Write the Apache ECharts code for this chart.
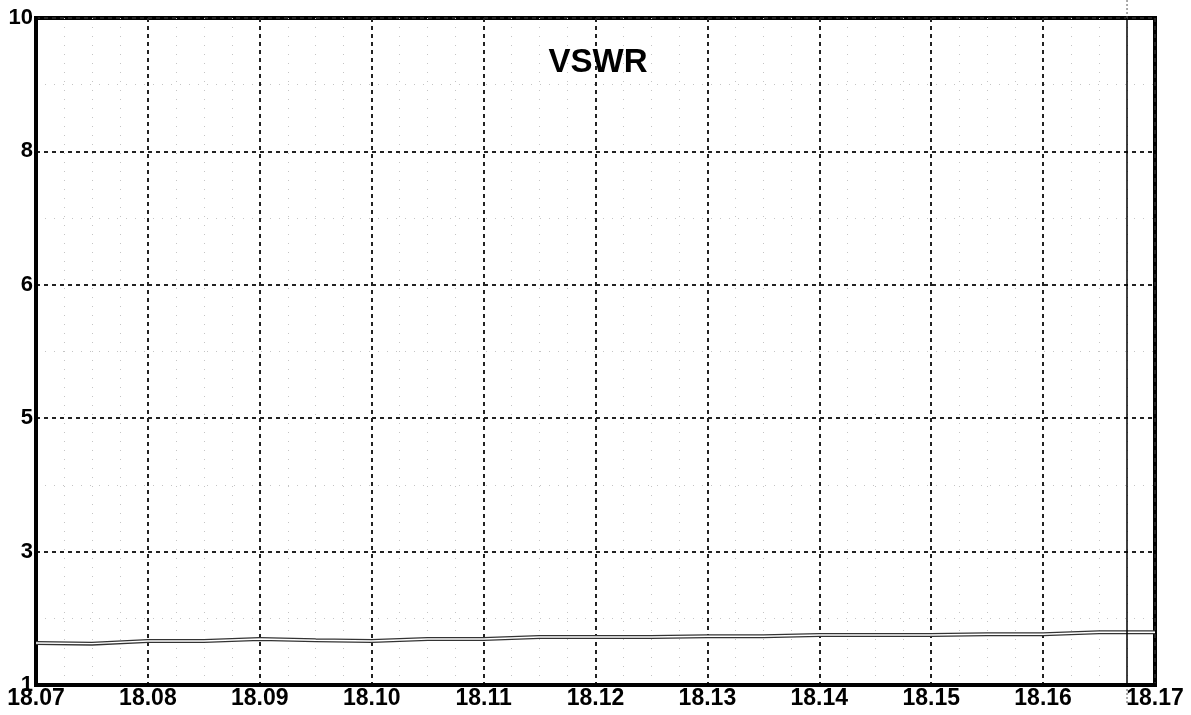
<!DOCTYPE html>
<html>
<head>
<meta charset="utf-8">
<script src="https://cdn.jsdelivr.net/npm/echarts@6/dist/echarts.min.js"></script>
<style>html,body{margin:0;padding:0;background:#fff;}#c{width:1191px;height:715px;}</style>
</head>
<body>
<div id="c"></div>
<script>
// Frequency points (x) and VSWR readings
const freqs = [18.070,18.075,18.080,18.085,18.090,18.095,18.100,18.105,18.110,18.115,18.120,18.125,18.130,18.135,18.140,18.145,18.150,18.155,18.160,18.165,18.170];
const vswr  = [1.63,1.62,1.66,1.66,1.69,1.67,1.66,1.69,1.69,1.72,1.72,1.72,1.73,1.73,1.75,1.75,1.75,1.76,1.76,1.79,1.79];
// Y axis tick labels (equally spaced, non-linear VSWR scale)
const yTickValues = [1,3,5,6,8,10];
const yTickLabels = ['1','3','5','6','8','10'];
const xTickLabels = ['18.07','18.08','18.09','18.10','18.11','18.12','18.13','18.14','18.15','18.16','18.17'];
const cursorFreq = 18.1675;

// map VSWR to equal-spaced axis position (piecewise linear between ticks)
function toPos(v){
  for(let i=0;i<yTickValues.length-1;i++){
    const a=yTickValues[i], b=yTickValues[i+1];
    if(v<=b) return i + (v-a)/(b-a);
  }
  return yTickValues.length-1;
}
const lineData = freqs.map((f,i)=>[f, toPos(vswr[i])]);

const chart = echarts.init(document.getElementById('c'));
const labelFont = {fontFamily:'Liberation Sans, Arial, sans-serif', fontWeight:'bold', color:'#000'};
chart.setOption({
  backgroundColor:'#fff',
  animation:false,
  title:{text:'VSWR', left:593, textAlign:'center', top:41,
    textStyle:{fontFamily:'Liberation Sans, Arial, sans-serif', fontWeight:'bold', fontSize:33, color:'#000'}},
  grid:{left:36, right:36, top:18, bottom:30, show:true, borderColor:'#000', borderWidth:4, backgroundColor:'#fff'},
  xAxis:{
    type:'value', min:18.07, max:18.17, interval:0.01,
    axisLine:{show:true, lineStyle:{color:'#000', width:4}},
    axisTick:{show:false},
    axisLabel:Object.assign({fontSize:23, margin:2, formatter:(v)=>{
      const i=Math.round((v-18.07)/0.01); return xTickLabels[i]!==undefined?xTickLabels[i]:'';}}, labelFont),
    splitLine:{show:true, lineStyle:{color:'#222', width:2, type:[4,4]}},
    minorTick:{show:false, splitNumber:4},
    minorSplitLine:{show:true, lineStyle:{color:'#c4c4c4', width:1, type:[1,8]}}
  },
  yAxis:{
    type:'value', min:0, max:5, interval:1,
    axisLine:{show:true, lineStyle:{color:'#000', width:4}},
    axisTick:{show:false},
    axisLabel:Object.assign({fontSize:22, margin:3, formatter:(v)=>yTickLabels[Math.round(v)]}, labelFont),
    splitLine:{show:true, lineStyle:{color:'#222', width:2, type:[4,4]}},
    minorTick:{show:false, splitNumber:2},
    minorSplitLine:{show:true, lineStyle:{color:'#c4c4c4', width:1, type:[1,8]}}
  },
  series:[
    {type:'line', data:lineData, showSymbol:false, lineStyle:{color:'#333', width:4}, z:3,
     markLine:{silent:true, symbol:['none','none'], label:{show:false}, lineStyle:{color:'#000', width:1.5, type:'solid'},
       data:[[{coord:[cursorFreq,0]},{coord:[cursorFreq,5]}]]}},
    {type:'line', data:lineData, showSymbol:false, lineStyle:{color:'#fff', width:1.4}, z:4}
  ]
});
// dashed extension of the cursor line outside the plot
const pt = chart.convertToPixel({gridIndex:0}, [cursorFreq, 5]);
const pb = chart.convertToPixel({gridIndex:0}, [cursorFreq, 0]);
chart.setOption({graphic:[
  {type:'line', shape:{x1:pt[0], y1:0, x2:pt[0], y2:pt[1]}, style:{stroke:'#555', lineWidth:1, lineDash:[2,2]}},
  {type:'line', shape:{x1:pb[0], y1:pb[1], x2:pb[0], y2:pb[1]+20}, style:{stroke:'#555', lineWidth:1, lineDash:[2,2]}}
]});
</script>
</body>
</html>
